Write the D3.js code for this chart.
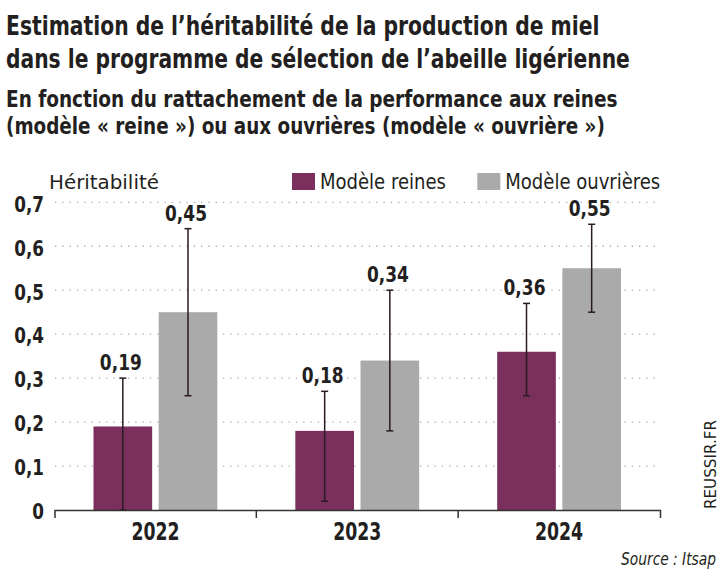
<!DOCTYPE html>
<html>
<head>
<meta charset="utf-8">
<script src="https://cdn.jsdelivr.net/npm/d3@7"></script>
<style>
  body { margin: 0; background: #fff; }
  svg text { fill: #231f20; }
  .cond { font-family: "DejaVu Sans Condensed", "DejaVu Sans", sans-serif; }
</style>
</head>
<body>
<div id="chart"></div>
<script>
// data
const years = ["2022", "2023", "2024"]
const series = ["Modèle reines", "Modèle ouvrières"]
const reines = [0.19, 0.18, 0.36]
const ouvrieres = [0.45, 0.34, 0.55]
const reinesLow = [0.00, 0.02, 0.26]
const reinesHigh = [0.30, 0.27, 0.47]
const ouvrieresLow = [0.26, 0.18, 0.45]
const ouvrieresHigh = [0.64, 0.50, 0.65]
const yTicks = [0, 0.1, 0.2, 0.3, 0.4, 0.5, 0.6, 0.7]

const titleLines = [
    "Estimation de l\u2019héritabilité de la production de miel",
    "dans le programme de sélection de l\u2019abeille ligérienne"
]
const subtitleLines = [
    "En fonction du rattachement de la performance aux reines",
    "(modèle « reine ») ou aux ouvrières (modèle « ouvrière »)"
]

const width = 726
const height = 576
const colors = {"Modèle reines": "#7a2f5d", "Modèle ouvrières": "#aaaaaa"}

// squeeze a text horizontally around its anchor, either to a width or by a factor
function squeeze(sel, target, byFactor) {
    sel.each(function (d, i) {
        const t = typeof target === "function" ? target(d, i) : target
        const k = byFactor ? t : t / this.getComputedTextLength()
        const x = +this.getAttribute("x") || 0
        const y = +this.getAttribute("y") || 0
        const pre = this.getAttribute("data-pre") || `translate(${x},${y})`
        d3.select(this)
            .attr("x", 0).attr("y", 0)
            .attr("transform", `${pre} scale(${k},1)`)
    })
}

const svg = d3.select("#chart").append("svg")
    .attr("width", width)
    .attr("height", height)

// titles
svg.selectAll("text.title")
    .data(titleLines)
    .join("text")
    .attr("class", "title cond")
    .attr("x", 6)
    .attr("y", (d, i) => 35 + i * 33)
    .attr("font-size", 27)
    .attr("font-weight", "bold")
    .text(d => d)
    .call(squeeze, (d, i) => [594, 624][i])

svg.selectAll("text.subtitle")
    .data(subtitleLines)
    .join("text")
    .attr("class", "subtitle cond")
    .attr("x", 6)
    .attr("y", (d, i) => 107 + i * 27)
    .attr("font-size", 23)
    .attr("font-weight", "bold")
    .text(d => d)
    .call(squeeze, (d, i) => [612, 599][i])

// scales
const x0 = d3.scaleBand()
    .domain(years)
    .range([54.5, 660])

const x1 = d3.scaleBand()
    .domain(series)
    .range([39, x0.bandwidth() - 39])
    .paddingInner(0.1)

const y = d3.scaleLinear()
    .domain([0, 0.7])
    .range([510, 202.3])

const fmt = d => d3.format(".2~f")(d).replace(".", ",")

// dotted gridlines
svg.append("g")
    .selectAll("line")
    .data(yTicks.filter(d => d > 0))
    .join("line")
    .attr("x1", 55)
    .attr("x2", 659)
    .attr("y1", d => y(d))
    .attr("y2", d => y(d))
    .attr("stroke", "#ababab")
    .attr("stroke-width", 1.3)
    .attr("stroke-dasharray", "1.3,6")

// y axis labels
const yAxis = svg.append("g")
    .attr("transform", "translate(44,0)")
    .call(d3.axisLeft(y).tickValues(yTicks).tickFormat(fmt).tickSize(0).tickPadding(0))
yAxis.select(".domain").remove()
yAxis.selectAll("text")
    .attr("class", "cond")
    .attr("font-size", 22)
    .attr("font-weight", "bold")
    .attr("fill", "#231f20")
    .attr("dy", "0.4em")
    .call(squeeze, 0.85, true)

svg.append("text")
    .attr("class", "cond")
    .attr("x", 49)
    .attr("y", 189)
    .attr("font-size", 20)
    .text("Héritabilité")
    .call(squeeze, 110)

// legend
const legend = svg.append("g").selectAll("g")
    .data(series)
    .join("g")
    .attr("transform", (d, i) => `translate(${[292, 477.3][i]},173)`)
legend.append("rect")
    .attr("width", 23)
    .attr("height", 17)
    .attr("fill", d => colors[d])
legend.append("text")
    .attr("class", "cond")
    .attr("x", 28)
    .attr("y", 16)
    .attr("font-size", 21)
    .text(d => d)
    .call(squeeze, (d, i) => [126, 155][i])

// bars
const rows = years.map((yr, i) => ({
    year: yr,
    values: [
        {key: series[0], value: reines[i], low: reinesLow[i], high: reinesHigh[i]},
        {key: series[1], value: ouvrieres[i], low: ouvrieresLow[i], high: ouvrieresHigh[i]}
    ]
}))

const groups = svg.append("g").selectAll("g")
    .data(rows)
    .join("g")
    .attr("transform", d => `translate(${x0(d.year)},0)`)

groups.selectAll("rect")
    .data(d => d.values)
    .join("rect")
    .attr("x", d => x1(d.key))
    .attr("width", x1.bandwidth())
    .attr("y", d => y(d.value))
    .attr("height", d => y(0) - y(d.value))
    .attr("fill", d => colors[d.key])

// error bars
const err = groups.selectAll("g.err")
    .data(d => d.values)
    .join("g")
    .attr("class", "err")
    .attr("transform", d => `translate(${x1(d.key) + x1.bandwidth() / 2},0)`)
    .attr("stroke", "#2a1a22")
    .attr("stroke-width", 1.5)
err.append("line")
    .attr("y1", d => y(d.low))
    .attr("y2", d => y(d.high))
err.append("line")
    .attr("x1", -3.5).attr("x2", 3.5)
    .attr("y1", d => y(d.high)).attr("y2", d => y(d.high))
err.append("line")
    .attr("x1", -3.5).attr("x2", 3.5)
    .attr("y1", d => y(d.low)).attr("y2", d => y(d.low))

// value labels
groups.selectAll("text.val")
    .data(d => d.values)
    .join("text")
    .attr("class", "val cond")
    .attr("x", d => x1(d.key) + x1.bandwidth() / 2 - 2)
    .attr("y", d => y(d.high) - 8)
    .attr("text-anchor", "middle")
    .attr("font-size", 21)
    .attr("font-weight", "bold")
    .text(d => fmt(d.value))
    .call(squeeze, 0.9, true)

// x axis
const xAxis = svg.append("g")
    .attr("transform", `translate(0,${y(0)})`)
    .call(d3.axisBottom(x0).tickSize(0).tickSizeOuter(8))
xAxis.select(".domain")
    .attr("stroke", "#333")
    .attr("stroke-width", 1.5)
xAxis.selectAll("text")
    .attr("class", "cond")
    .attr("font-size", 24)
    .attr("font-weight", "bold")
    .attr("fill", "#231f20")
    .attr("y", 30)
    .attr("dy", 0)
    .call(squeeze, 0.8, true)
xAxis.selectAll("line.sep")
    .data(years.slice(1))
    .join("line")
    .attr("class", "sep")
    .attr("x1", d => x0(d))
    .attr("x2", d => x0(d))
    .attr("y1", 0)
    .attr("y2", 8)
    .attr("stroke", "#333")
    .attr("stroke-width", 1.5)

// credits
svg.append("text")
    .attr("data-pre", "translate(716,509) rotate(-90)")
    .attr("font-family", "DejaVu Sans, sans-serif")
    .attr("font-size", 15)
    .text("REUSSIR.FR")
    .call(squeeze, 89)

svg.append("text")
    .attr("class", "cond")
    .attr("x", 716)
    .attr("y", 565)
    .attr("text-anchor", "end")
    .attr("font-size", 18)
    .attr("font-style", "italic")
    .text("Source : Itsap")
    .call(squeeze, 95)
</script>
</body>
</html>
